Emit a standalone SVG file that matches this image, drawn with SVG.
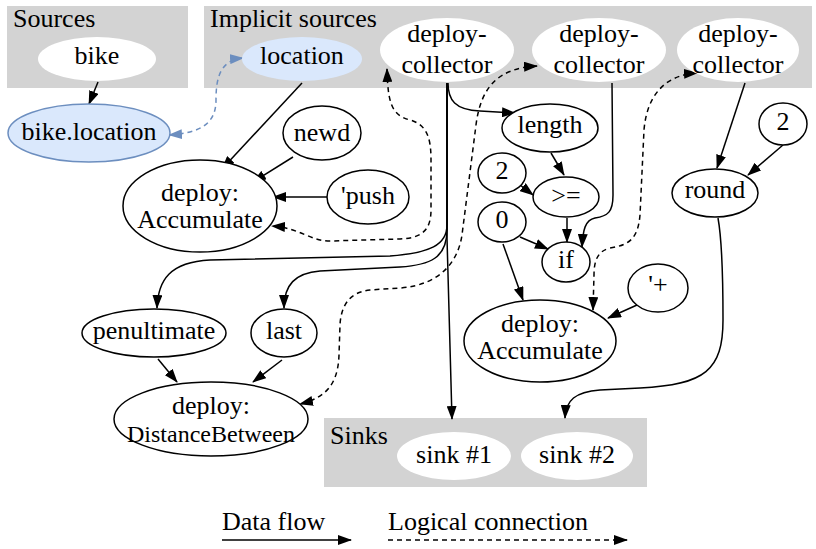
<svg xmlns="http://www.w3.org/2000/svg" width="816" height="549" viewBox="0 0 816 549" font-family="'Liberation Serif', 'Times New Roman', serif" font-size="26">
  <style>
    .mid { text-anchor: middle; }
    .cluster { fill: #d3d3d3; stroke: none; }
    .plain { fill: #ffffff; stroke: none; }
    .op { fill: #ffffff; stroke: #000; stroke-width: 1.5; }
    .blue { fill: #dae8fc; stroke: none; }
    .blueline { fill: #dae8fc; stroke: #6c8ebf; stroke-width: 1.5; }
    .flow { fill: none; stroke: #000; stroke-width: 1.5; marker-end: url(#ah); }
    .logic { fill: none; stroke: #000; stroke-width: 1.5; stroke-dasharray: 5 4; marker-start: url(#ah); marker-end: url(#ah); }
    .logicB { fill: none; stroke: #6c8ebf; stroke-width: 1.5; stroke-dasharray: 5 4; marker-start: url(#ahB); marker-end: url(#ahB); }
  </style>
  <defs>
    <marker id="ah" viewBox="0 0 14 10" refX="13" refY="5" markerWidth="14" markerHeight="10" markerUnits="userSpaceOnUse" orient="auto-start-reverse">
      <path d="M0,0 L14,5 L0,10 z" fill="#000"/>
    </marker>
    <marker id="ahB" viewBox="0 0 14 10" refX="13" refY="5" markerWidth="14" markerHeight="10" markerUnits="userSpaceOnUse" orient="auto-start-reverse">
      <path d="M0,0 L14,5 L0,10 z" fill="#6c8ebf"/>
    </marker>
  </defs>

  <!-- clusters -->
  <g id="cluster-sources">
    <rect class="cluster" x="7" y="6" width="181" height="82"/>
    <text x="13" y="27">Sources</text>
  </g>
  <g id="cluster-implicit">
    <rect class="cluster" x="204" y="6" width="608" height="82"/>
    <text x="210" y="27">Implicit sources</text>
  </g>
  <g id="cluster-sinks">
    <rect class="cluster" x="324" y="418" width="323" height="69"/>
    <text x="330" y="444">Sinks</text>
  </g>

  <!-- connectors -->
  <g id="edges">
    <path class="flow" d="M98,82 L89,104"/>
    <path class="logicB" d="M243,58 C220,60 216,78 216,100 C216,124 200,133 169,135"/>
    <path class="flow" d="M302,83 L222,169"/>
    <path class="flow" d="M293,157 L253,182"/>
    <path class="flow" d="M327,197 L273,197"/>
    <path class="logic" d="M387,69 C388,100 390,115 410,120 C428,125 431,140 431,160 L431,210 C431,232 420,238 400,239 L330,241 C310,241 300,228 272,226"/>
    <path class="logic" d="M537,66 C500,68 481,85 476,125 L462,235 C458,262 440,285 400,288 L370,290 C350,292 341,305 340,325 L339,355 C338,385 325,398 300,404"/>
    <path class="logic" d="M697,73 C665,75 647,95 644,130 L640,215 C638,238 630,245 610,248 C598,251 594,260 594,275 L593,310"/>
    <path class="flow" d="M448,83 C448,100 455,110 480,111 L515,113"/>
    <path class="flow" d="M447,83 L447,225 C447,245 430,253 390,256 L210,260 C170,262 158,280 157,308"/>
    <path class="flow" d="M447,83 L447,230 C447,258 430,265 400,267 L320,271 C295,273 284,285 284,308"/>
    <path class="flow" d="M447,83 L447,238 L452,419"/>
    <path class="flow" d="M612,83 L613,195 C613,212 608,216 595,218 C585,220 583,230 582,247"/>
    <path class="flow" d="M745,83 L717,168"/>
    <path class="flow" d="M783,145 L748,175"/>
    <path class="flow" d="M551,153 L564,175"/>
    <path class="flow" d="M520,185 L533,195"/>
    <path class="flow" d="M567,218 L567,242"/>
    <path class="flow" d="M520,237 L548,249"/>
    <path class="flow" d="M503,244 L523,300"/>
    <path class="flow" d="M637,305 L608,318"/>
    <path class="flow" d="M718,218 C722,240 723,280 723,320 C723,370 705,385 640,388 L600,390 C575,392 566,400 565,418"/>
    <path class="flow" d="M158,359 L177,382"/>
    <path class="flow" d="M282,360 L253,382"/>
  </g>

  <!-- nodes -->
  <g id="bike">
    <ellipse class="plain" cx="97" cy="59" rx="59" ry="22"/>
    <text class="mid" x="97" y="64">bike</text>
  </g>
  <g id="bike-location">
    <ellipse class="blueline" cx="89" cy="133" rx="81" ry="29"/>
    <text class="mid" x="89" y="140">bike.location</text>
  </g>
  <g id="location">
    <ellipse class="blue" cx="302" cy="59" rx="60" ry="22"/>
    <text class="mid" x="302" y="64">location</text>
  </g>
  <g id="collector-1">
    <ellipse class="plain" cx="447" cy="50" rx="67" ry="32"/>
    <text class="mid" x="447" y="42">deploy-</text>
    <text class="mid" x="447" y="73">collector</text>
  </g>
  <g id="collector-2">
    <ellipse class="plain" cx="599" cy="50" rx="67" ry="32"/>
    <text class="mid" x="599" y="42">deploy-</text>
    <text class="mid" x="599" y="73">collector</text>
  </g>
  <g id="collector-3">
    <ellipse class="plain" cx="738" cy="50" rx="61" ry="32"/>
    <text class="mid" x="738" y="42">deploy-</text>
    <text class="mid" x="738" y="73">collector</text>
  </g>
  <g id="newd">
    <ellipse class="op" cx="322" cy="133" rx="39" ry="27"/>
    <text class="mid" x="322" y="141">newd</text>
  </g>
  <g id="push">
    <ellipse class="op" cx="368" cy="197" rx="41" ry="27"/>
    <text class="mid" x="368" y="204">'push</text>
  </g>
  <g id="accumulate-1">
    <ellipse class="op" cx="200" cy="206" rx="77" ry="46"/>
    <text class="mid" x="200" y="201">deploy:</text>
    <text class="mid" x="200" y="228">Accumulate</text>
  </g>
  <g id="length">
    <ellipse class="op" cx="550" cy="128" rx="48" ry="24"/>
    <text class="mid" x="550" y="133">length</text>
  </g>
  <g id="two-a">
    <ellipse class="op" cx="502" cy="173" rx="24" ry="20"/>
    <text class="mid" x="502" y="179">2</text>
  </g>
  <g id="gte">
    <ellipse class="op" cx="566" cy="197" rx="33" ry="20"/>
    <text class="mid" x="566" y="204">&gt;=</text>
  </g>
  <g id="zero">
    <ellipse class="op" cx="502" cy="222" rx="24" ry="20"/>
    <text class="mid" x="502" y="228">0</text>
  </g>
  <g id="if">
    <ellipse class="op" cx="566" cy="262" rx="24" ry="20"/>
    <text class="mid" x="566" y="268">if</text>
  </g>
  <g id="plus">
    <ellipse class="op" cx="658" cy="288" rx="30" ry="24"/>
    <text class="mid" x="658" y="293">'+</text>
  </g>
  <g id="accumulate-2">
    <ellipse class="op" cx="540" cy="341" rx="76" ry="41"/>
    <text class="mid" x="540" y="332">deploy:</text>
    <text class="mid" x="540" y="359">Accumulate</text>
  </g>
  <g id="round">
    <ellipse class="op" cx="715" cy="193" rx="43" ry="24"/>
    <text class="mid" x="715" y="198">round</text>
  </g>
  <g id="two-b">
    <ellipse class="op" cx="783" cy="124" rx="24" ry="21"/>
    <text class="mid" x="783" y="130">2</text>
  </g>
  <g id="penultimate">
    <ellipse class="op" cx="154" cy="333" rx="72" ry="24"/>
    <text class="mid" x="154" y="339">penultimate</text>
  </g>
  <g id="last">
    <ellipse class="op" cx="284" cy="333" rx="33" ry="24"/>
    <text class="mid" x="284" y="339">last</text>
  </g>
  <g id="distance">
    <ellipse class="op" cx="211" cy="419" rx="97" ry="37"/>
    <text class="mid" x="211" y="414">deploy:</text>
    <text class="mid" x="211" y="442" font-size="24">DistanceBetween</text>
  </g>
  <g id="sink-1">
    <ellipse class="plain" cx="454" cy="456" rx="57" ry="24"/>
    <text class="mid" x="454" y="463">sink #1</text>
  </g>
  <g id="sink-2">
    <ellipse class="plain" cx="577" cy="456" rx="56" ry="24"/>
    <text class="mid" x="577" y="463">sink #2</text>
  </g>

  <!-- legend -->
  <g id="legend">
    <text x="222" y="530">Data flow</text>
    <path d="M222,540 L351,540" fill="none" stroke="#000" stroke-width="1.5" marker-end="url(#ah)"/>
    <text x="388" y="530">Logical connection</text>
    <path d="M388,540 L627,540" fill="none" stroke="#000" stroke-width="1.5" stroke-dasharray="5 4" marker-end="url(#ah)"/>
  </g>
</svg>
